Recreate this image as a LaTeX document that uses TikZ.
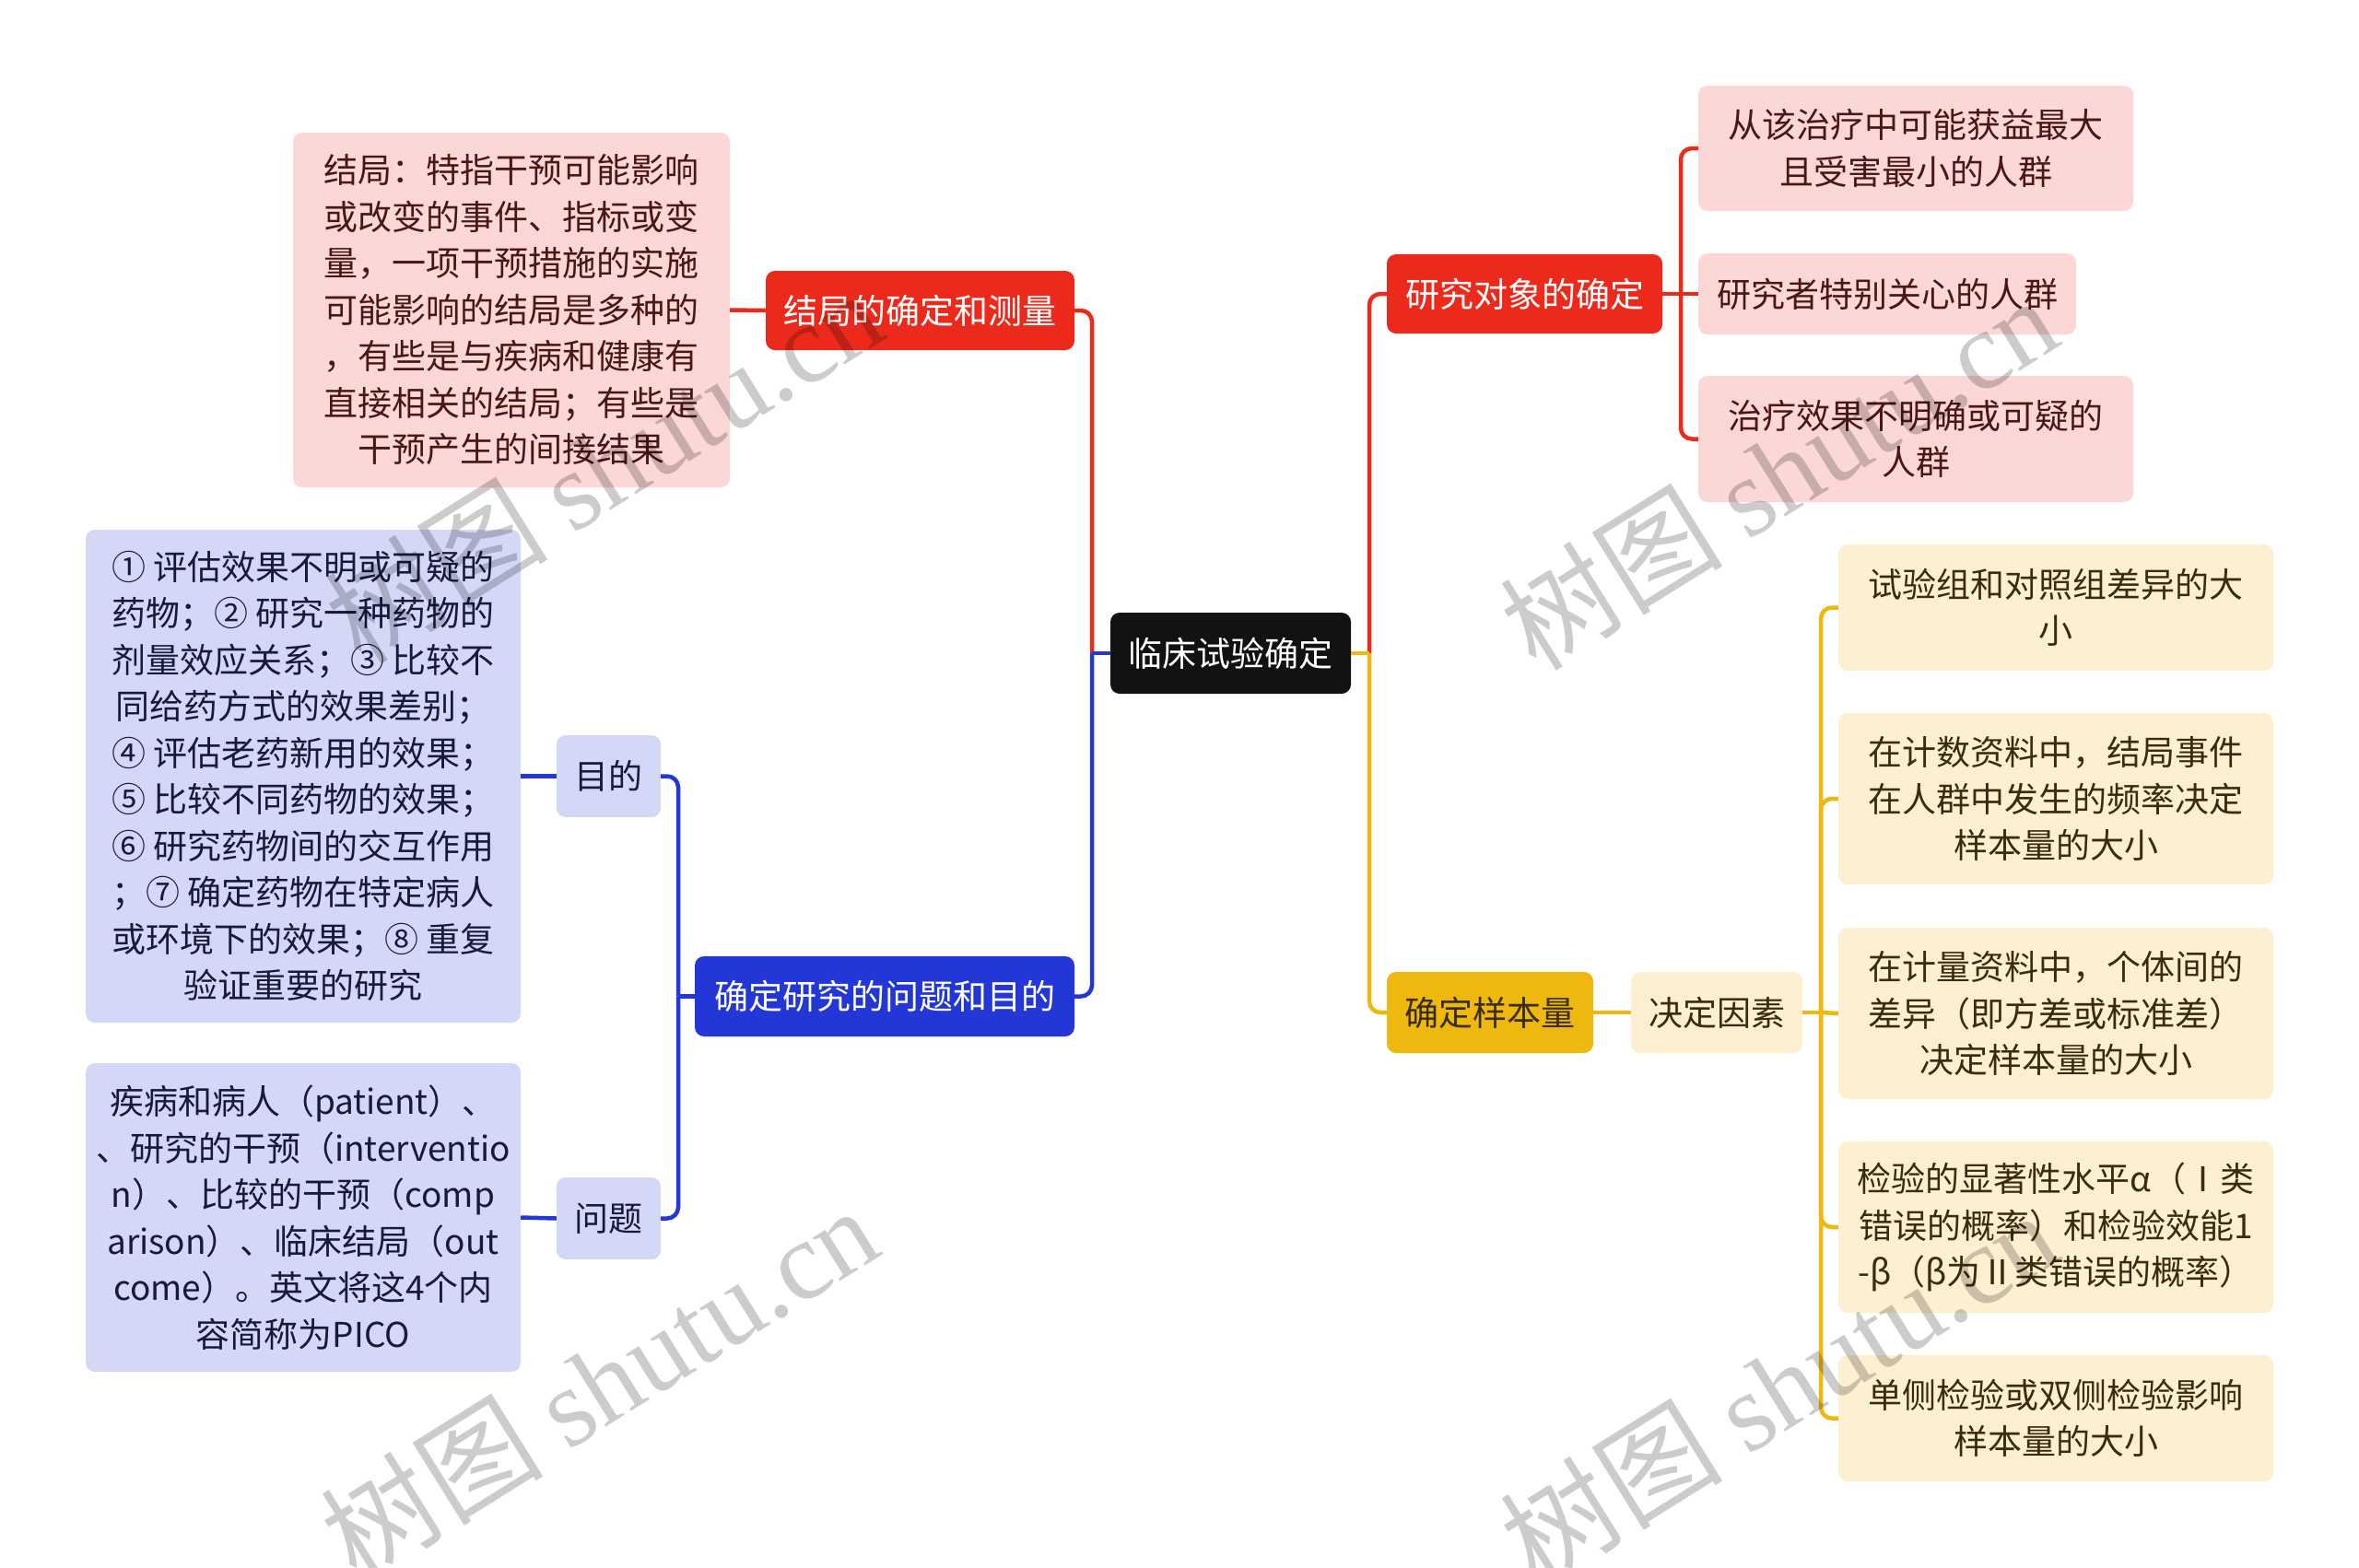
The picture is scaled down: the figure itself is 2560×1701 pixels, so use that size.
\documentclass[tikz,border=0pt]{standalone}
\usepackage{fontspec}
\setmainfont{Noto Sans CJK SC}
\newfontfamily\wmserif{Liberation Serif}
\definecolor{cred}{HTML}{EB2A1C}
\definecolor{credleaf}{HTML}{FBD8D6}
\definecolor{credtext}{HTML}{4A1616}
\definecolor{cblue}{HTML}{2337D6}
\definecolor{cblueleaf}{HTML}{D4D8F7}
\definecolor{cbluetext}{HTML}{161B3C}
\definecolor{cyel}{HTML}{EFB80E}
\definecolor{cyelleaf}{HTML}{FCF0D1}
\definecolor{cyeltext}{HTML}{3A2D0E}
\definecolor{croot}{HTML}{121212}
\begin{document}
\begin{tikzpicture}[x=1pt,y=-1pt,
  box/.style={rounded corners=10pt, align=center, inner sep=6pt, font=\fontsize{37}{50.5}\selectfont},
  rootbox/.style={box, fill=croot, text=white},
  redbr/.style={box, fill=cred, text=white},
  redleaf/.style={box, fill=credleaf, text=credtext},
  bluebr/.style={box, fill=cblue, text=white},
  bluesub/.style={box, fill=cblueleaf, text=cbluetext},
  blueleaf/.style={box, fill=cblueleaf, text=cbluetext},
  yelbr/.style={box, fill=cyel, text=cyeltext},
  yelleaf/.style={box, fill=cyelleaf, text=cyeltext},
  conn/.style={line width=4.5pt, rounded corners=12pt},
  wm/.style={text=black, opacity=0.2, rotate=32, font=\fontsize{121}{121}\selectfont}
]
\useasboundingbox (0,0) rectangle (2560,1701);
\fill[white] (0,0) rectangle (2560,1701);

% junction coordinates
\coordinate (jl) at (1185,709);
\coordinate (jr) at (1486,709);
\coordinate (jr2) at (1824,319);
\coordinate (jb) at (736,1081.5);
\coordinate (jy) at (1976,1099);

% nodes
\node[rootbox, minimum width=261pt, minimum height=88pt] (root) at (1335.5,709) {临床试验确定};

\node[redbr, minimum width=335pt, minimum height=86pt] (r1) at (998.5,337) {结局的确定和测量};
\node[redleaf, minimum width=474pt, minimum height=385pt] (r1l) at (555,336.5)
  {结局：特指干预可能影响\\或改变的事件、指标或变\\量，一项干预措施的实施\\可能影响的结局是多种的\\，有些是与疾病和健康有\\直接相关的结局；有些是\\干预产生的间接结果};

\node[bluebr, minimum width=412pt, minimum height=87pt] (b1) at (960,1081.5) {确定研究的问题和目的};
\node[bluesub, minimum width=113pt, minimum height=89pt] (b1a) at (660.5,842.5) {目的};
\node[blueleaf, minimum width=472pt, minimum height=535pt] (b1al) at (329,842.5)
  {① 评估效果不明或可疑的\\药物；② 研究一种药物的\\剂量效应关系；③ 比较不\\同给药方式的效果差别；\\④ 评估老药新用的效果；\\⑤ 比较不同药物的效果；\\⑥ 研究药物间的交互作用\\；⑦ 确定药物在特定病人\\或环境下的效果；⑧ 重复\\验证重要的研究};
\node[bluesub, minimum width=113pt, minimum height=89pt] (b1b) at (660.5,1322.5) {问题};
\node[blueleaf, minimum width=472pt, minimum height=335pt] (b1bl) at (329,1321.5)
  {疾病和病人（patient）、\\、研究的干预（interventio\\n）、比较的干预（comp\\arison）、临床结局（out\\come）。英文将这4个内\\容简称为PICO};

\node[redbr, minimum width=299pt, minimum height=86pt] (r2) at (1654.5,319) {研究对象的确定};
\node[redleaf, minimum width=472pt, minimum height=136pt] (r2a) at (2079,161) {从该治疗中可能获益最大\\且受害最小的人群};
\node[redleaf, minimum width=410pt, minimum height=88pt] (r2b) at (2048,319) {研究者特别关心的人群};
\node[redleaf, minimum width=472pt, minimum height=137pt] (r2c) at (2079,476.5) {治疗效果不明确或可疑的\\人群};

\node[yelbr, minimum width=224pt, minimum height=88pt] (y1) at (1617,1099) {确定样本量};
\node[yelleaf, minimum width=186pt, minimum height=88pt] (y2) at (1863,1099) {决定因素};
\node[yelleaf, minimum width=472pt, minimum height=137pt] (ya) at (2231,659.5) {试验组和对照组差异的大\\小};
\node[yelleaf, minimum width=472pt, minimum height=186pt] (yb) at (2231,867) {在计数资料中，结局事件\\在人群中发生的频率决定\\样本量的大小};
\node[yelleaf, minimum width=472pt, minimum height=186pt] (yc) at (2231,1100) {在计量资料中，个体间的\\差异（即方差或标准差）\\决定样本量的大小};
\node[yelleaf, minimum width=472pt, minimum height=186pt] (yd) at (2231,1332) {检验的显著性水平α（Ⅰ类\\错误的概率）和检验效能1\\-β（β为Ⅱ类错误的概率）};
\node[yelleaf, minimum width=472pt, minimum height=137pt] (ye) at (2231,1539.5) {单侧检验或双侧检验影响\\样本量的大小};

% connectors
\draw[conn, cred] (jl) |- (r1.east);
\draw[conn, cred] (r1.west) -- (r1l.east);
\draw[conn, cred] (jr) |- (r2.west);
\draw[conn, cred] (r2.east) -- (jr2);
\draw[conn, cred] (jr2) |- (r2a.west);
\draw[conn, cred] (jr2) -- (r2b.west);
\draw[conn, cred] (jr2) |- (r2c.west);

\draw[conn, cblue] (root.west) -- (jl);
\draw[conn, cblue] (jl) |- (b1.east);
\draw[conn, cblue] (b1.west) -- (jb);
\draw[conn, cblue] (jb) |- (b1a.east);
\draw[conn, cblue] (jb) |- (b1b.east);
\draw[conn, cblue] (b1a.west) -- (b1al.east);
\draw[conn, cblue] (b1b.west) -- (b1bl.east);

\draw[conn, cyel] (root.east) -- (jr);
\draw[conn, cyel] (jr) |- (y1.west);
\draw[conn, cyel] (y1.east) -- (y2.west);
\draw[conn, cyel] (y2.east) -- (jy);
\draw[conn, cyel] (jy) |- (ya.west);
\draw[conn, cyel] (jy) |- (yb.west);
\draw[conn, cyel] (jy) -- (yc.west);
\draw[conn, cyel] (jy) |- (yd.west);
\draw[conn, cyel] (jy) |- (ye.west);

% watermarks
\node[wm] (wm1) at (655,505) {树图 {\wmserif shutu.cn}};
\node[wm] (wm2) at (1930,512) {树图 {\wmserif shutu.cn}};
\node[wm] (wm3) at (650,1500) {树图 {\wmserif shutu.cn}};
\node[wm] (wm4) at (1930,1505) {树图 {\wmserif shutu.cn}};
\end{tikzpicture}
\end{document}
